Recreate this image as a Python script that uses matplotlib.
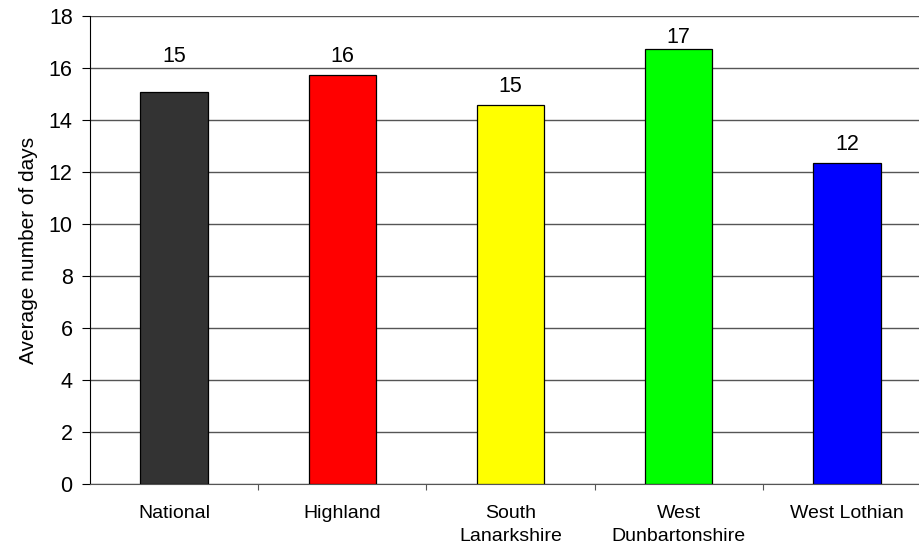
import matplotlib
matplotlib.use('Agg')
import matplotlib.pyplot as plt
import numpy as np

# data
areas = ['National', 'Highland', 'South\nLanarkshire', 'West\nDunbartonshire', 'West Lothian']
avg_days = [15.06, 15.72, 14.56, 16.73, 12.33]
bar_labels = ['15', '16', '15', '17', '12']

bar_colors = ['#333333', '#ff0000', '#ffff00', '#00ff00', '#0000ff']
label_gap_pt = [22, 9.5, 9.5, 4.5, 9.5]   # labels were hand-placed in the source

plt.rcParams['font.family'] = ['Liberation Sans', 'DejaVu Sans']

fig = plt.figure(figsize=(9.2, 5.51), dpi=100)
ax = fig.add_axes([90 / 920, 67 / 551, 841 / 920, 468 / 551])

x = np.arange(len(areas))
bars = ax.bar(x, avg_days, width=0.4, color=bar_colors, edgecolor='black',
              linewidth=0.9, zorder=3)

for b, lab, gap in zip(bars, bar_labels, label_gap_pt):
    ax.annotate(lab, (b.get_x() + b.get_width() / 2, b.get_height()),
                xytext=(0, gap), textcoords='offset points',
                ha='center', va='baseline', fontsize=15.5)

ax.set_xlim(-0.5, len(areas) - 0.5)
ax.set_ylim(0, 18)
ax.set_yticks(range(0, 19, 2))
ax.yaxis.grid(True, color='#555555', linewidth=1, zorder=0)

ax.set_xticks(x)
ax.set_xticklabels(areas, fontsize=14, linespacing=1.5)
ax.set_xticks(np.arange(0.5, len(areas) - 0.5), minor=True)
ax.tick_params(axis='x', which='major', length=0, pad=15)
ax.tick_params(axis='x', which='minor', length=4.5, width=0.8, color='#555555')
ax.tick_params(axis='y', labelsize=15.5, length=5.5, width=0.8, pad=7)

ax.set_ylabel('Average number of days', fontsize=15, labelpad=8)

for s in ['top', 'right']:
    ax.spines[s].set_visible(False)
ax.spines['bottom'].set_color('#555555')
ax.spines['left'].set_color('black')

fig.savefig('out.png', dpi=100)
